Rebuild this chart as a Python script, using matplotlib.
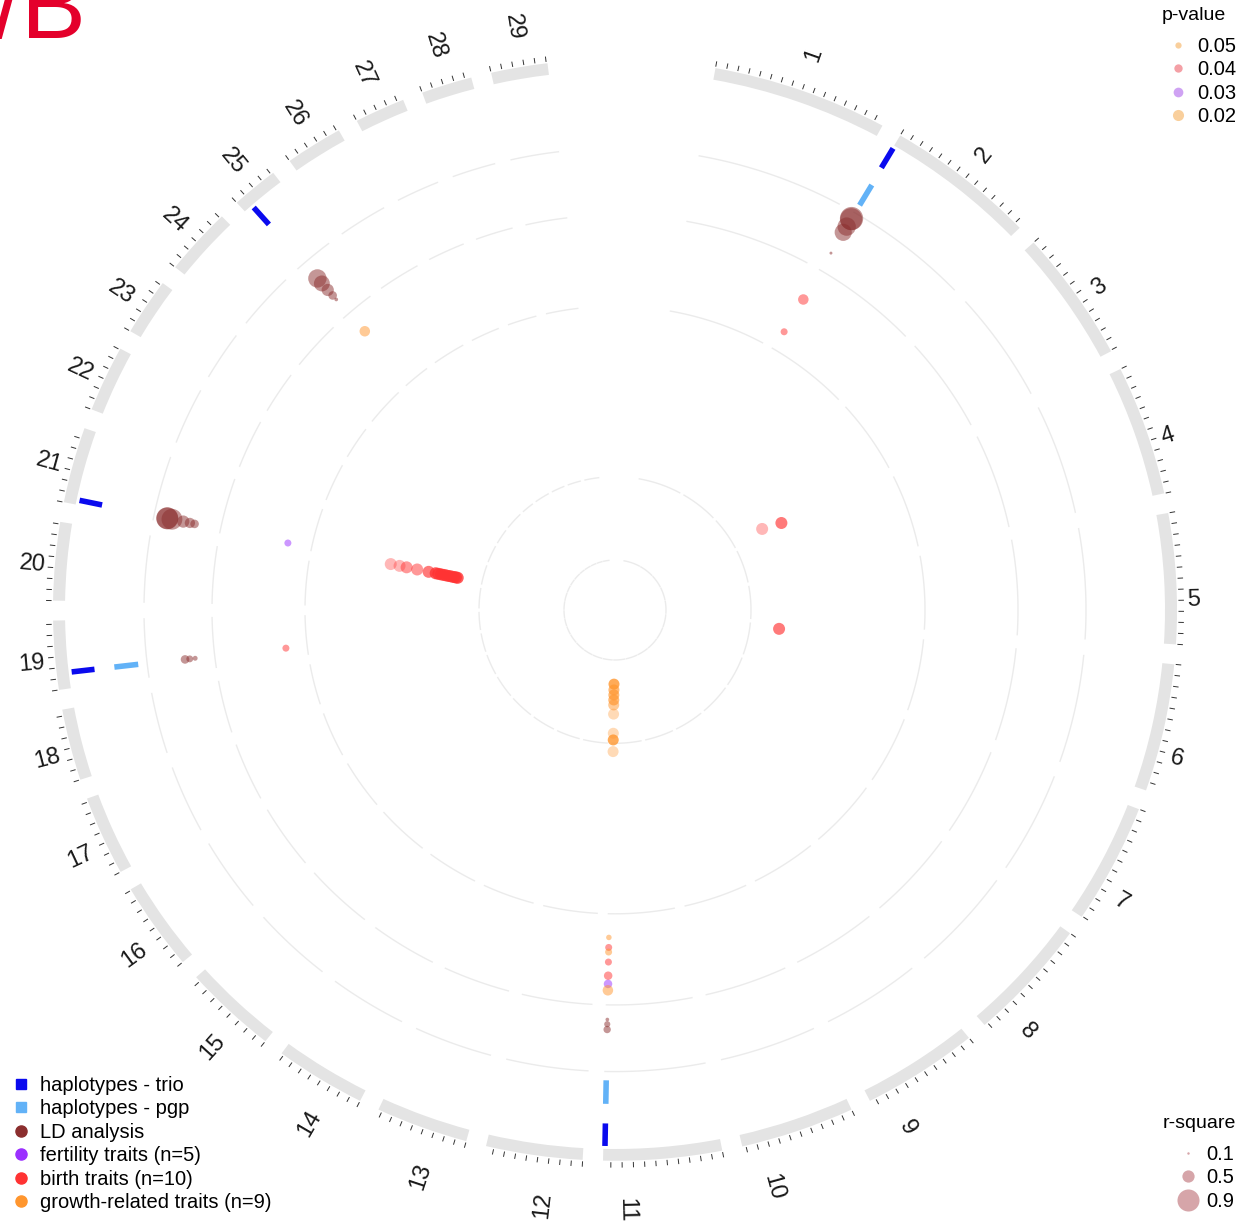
import numpy as np
import matplotlib
matplotlib.use("Agg")
import matplotlib.pyplot as plt
from matplotlib.lines import Line2D
from matplotlib.colors import to_rgba
from matplotlib.transforms import offset_copy

plt.rcParams['font.family'] = ['Liberation Sans', 'DejaVu Sans']

# ---------------- data ----------------
chrom_names = [str(i) for i in range(1, 30)]
chrom_len = [158.5, 136.2, 121.0, 120.0, 120.1, 117.8, 110.7, 113.3, 105.5, 103.3,
             107.0, 87.2, 83.5, 82.4, 85.0, 81.0, 73.2, 65.8, 63.4, 72.0,
             69.9, 61.0, 52.5, 62.3, 42.4, 52.0, 45.6, 45.9, 51.1]

# haplotypes (trio / pgp)
trio_chr = [2, 11, 19, 21, 25]
trio_pos = [0.5, 105.5, 15.0, 4.5, 8.5]
pgp_chr = [2, 11, 19]
pgp_pos = [1.2, 105.5, 15.0]

# LD analysis: position, track value, r-square
ld_chr = [2, 2, 2, 2, 2, 25, 25, 25, 25, 25, 21, 21, 21, 21, 21, 21, 19, 19, 19, 11, 11, 11]
ld_pos = [1.2, 1.2, 1.2, 1.2, 1.5, 8.5, 8.5, 8.5, 8.5, 8.5, 4.5, 4.5, 4.5, 4.5, 4.5, 4.5,
          14.5, 14.5, 14.5, 105.5, 105.5, 105.5]
ld_y = [0.90, 0.89, 0.76, 0.66, 0.30, 0.70, 0.60, 0.47, 0.36, 0.28, 0.80, 0.80, 0.73, 0.56,
        0.46, 0.39, 0.44, 0.37, 0.29, 0.22, 0.29, 0.37]
ld_r2 = [0.95, 0.90, 0.75, 0.70, 0.12, 0.75, 0.65, 0.50, 0.35, 0.15, 0.90, 0.88, 0.85, 0.50,
         0.42, 0.35, 0.35, 0.28, 0.20, 0.15, 0.25, 0.30]

# trait association track (p-value sized)
assoc_chr = [2, 2, 25, 21, 19, 11, 11, 11, 11, 11, 11, 11]
assoc_pos = [2.0, 2.5, 8.5, 4.5, 14.0, 105.5, 105.5, 105.5, 105.5, 105.5, 105.5, 105.5]
assoc_y = [0.63, 0.22, 0.74, 0.26, 0.23, 0.26, 0.37, 0.42, 0.53, 0.68, 0.77, 0.84]
assoc_trait = ['birth', 'birth', 'growth', 'fertility', 'birth', 'growth', 'birth',
               'growth', 'birth', 'birth', 'fertility', 'growth']
assoc_p = [0.02, 0.04, 0.02, 0.04, 0.04, 0.05, 0.04, 0.04, 0.04, 0.03, 0.03, 0.02]

# birth traits track
birth_chr = [21] * 15 + [3, 3, 6]
birth_pos = [4.5] * 15 + [109.5, 120.5, 9.0]
birth_y = [0.99, 0.89, 0.81, 0.69, 0.56, 0.48, 0.45, 0.42, 0.39, 0.36, 0.33, 0.30, 0.27,
           0.25, 0.23, 0.32, 0.54, 0.28]
birth_p = [0.05, 0.05, 0.04, 0.04, 0.03, 0.02, 0.02, 0.02, 0.02, 0.02, 0.02, 0.02, 0.02,
           0.02, 0.02, 0.05, 0.03, 0.03]

# growth-related traits track
growth_chr = [11] * 9
growth_pos = [103.0] * 9
growth_y = [0.29, 0.36, 0.42, 0.48, 0.54, 0.65, 0.88, 0.96, 1.10]
growth_p = [0.02, 0.03, 0.03, 0.03, 0.04, 0.05, 0.05, 0.02, 0.05]

legend_labels = ['haplotypes - trio', 'haplotypes - pgp', 'LD analysis',
                 'fertility traits (n=5)', 'birth traits (n=10)', 'growth-related traits (n=9)']
pvalue_levels = [0.05, 0.04, 0.03, 0.02]
rsq_levels = [0.1, 0.5, 0.9]

# ---------------- layout / style ----------------
W, H = 1260, 1224
CX, CY, RMAX, KY = 615, 610, 620, 0.98      # KY: vertical squash of the circle
START_DEG, GAP_DEG, DEG_PER_MB = 10.3, 2.08, 0.1143

GROWTH_R = (51, 136)
BIRTH_R = (140, 230)
ASSOC_R = (310, 403)
LD_R = (403, 471)
PGP_R = (480, 504)
TRIO_R = (524, 547)
IDEO_R = (550, 562)
GRID_R = [51, 136, 310, 403, 471]

C_TRIO = '#0A0AEE'
C_PGP = '#62B2F7'
C_LD = '#8B2E2E'
C_FERT = '#9B30FF'
C_BIRTH = '#FF3333'
C_GROW = '#FF962E'
trait_color = {'fertility': C_FERT, 'birth': C_BIRTH, 'growth': C_GROW}
p_alpha = {0.05: 0.35, 0.04: 0.5, 0.03: 0.65, 0.02: 0.8}
p_diam = {0.05: 5.5, 0.04: 7.0, 0.03: 8.5, 0.02: 10.5}

cum = np.concatenate([[0.0], np.cumsum(chrom_len)[:-1]])
chr_start = START_DEG + cum * DEG_PER_MB + np.arange(len(chrom_len)) * GAP_DEG
chr_end = chr_start + np.array(chrom_len) * DEG_PER_MB

# empirical label placement (angular shift vs. angle)
LBL_ANG = [0, 40, 55, 72, 88, 105, 120, 135, 150, 179.9, 180.1, 200, 235, 275, 312, 360]
LBL_OFF = [0, 0.2, 0.5, 1.1, 1.9, 2.4, 2.5, 3.4, 3.6, 3.5, -1.7, -1.7, -1.0, -0.1, 0.5, 0.5]


def theta(ch, pos):
    i = np.asarray(ch) - 1
    return np.deg2rad(chr_start[i] + np.asarray(pos) * DEG_PER_MB)


def radius(y, tr):
    return tr[0] + np.asarray(y) * (tr[1] - tr[0])


def s_from_px(d):
    return (np.asarray(d) * 0.72) ** 2


fig = plt.figure(figsize=(W / 100, H / 100), dpi=100)
ax = fig.add_axes([(CX - RMAX) / W, (H - CY - RMAX * KY) / H, 2 * RMAX / W,
                   2 * RMAX * KY / H], projection='polar')
ax.set_aspect('auto')
ax.set_theta_zero_location('N')
ax.set_theta_direction(-1)
ax.set_ylim(0, RMAX)
ax.axis('off')
label_tr = offset_copy(ax.transData, fig=fig, x=-3, y=-4, units='dots')

# grid arcs per sector
for s0, s1 in zip(chr_start, chr_end):
    th = np.deg2rad(np.linspace(s0, s1, 80))
    for r in GRID_R:
        ax.plot(th, np.full_like(th, r), color='#EBEBEB', lw=1.0, zorder=1)

# ideogram + ticks + labels
for i, (s0, s1) in enumerate(zip(chr_start, chr_end)):
    a0, a1 = np.deg2rad(s0), np.deg2rad(s1)
    ax.bar((a0 + a1) / 2, IDEO_R[1] - IDEO_R[0], width=a1 - a0, bottom=IDEO_R[0],
           color='#E4E4E4', edgecolor='none', zorder=2)
    ticks = np.arange(0, chrom_len[i] + 0.01, 10.0)
    ax.vlines(theta([i + 1] * len(ticks), ticks), IDEO_R[1] + 1.5, IDEO_R[1] + 7,
              color='#333333', lw=0.7, zorder=2)
    mid = (s0 + s1) / 2
    lab = mid + np.interp(mid, LBL_ANG, LBL_OFF)
    rot = 90 - lab if lab <= 180 else 270 - lab
    rlab = 582 + 26 * np.cos(np.deg2rad(lab)) ** 2
    ax.text(np.deg2rad(lab), rlab, chrom_names[i], rotation=rot, rotation_mode='anchor',
            ha='center', va='center', fontsize=17, color='#1a1a1a', zorder=5,
            transform=label_tr)

# haplotype bars
ax.vlines(theta(trio_chr, trio_pos), TRIO_R[0], TRIO_R[1], color=C_TRIO, lw=4, zorder=4)
ax.vlines(theta(pgp_chr, pgp_pos), PGP_R[0], PGP_R[1], color=C_PGP, lw=4, zorder=4)

# LD analysis
ax.scatter(theta(ld_chr, ld_pos), radius(ld_y, LD_R), s=s_from_px(24.5 * np.array(ld_r2)),
           color=C_LD, alpha=0.5, edgecolors='none', zorder=4)

# association track
ax.scatter(theta(assoc_chr, assoc_pos), radius(assoc_y, ASSOC_R),
           s=s_from_px([p_diam[p] for p in assoc_p]),
           color=[trait_color[t] for t in assoc_trait], alpha=0.5, edgecolors='none', zorder=4)

# birth track
ax.scatter(theta(birth_chr, birth_pos), radius(birth_y, BIRTH_R), s=s_from_px(12),
           color=[to_rgba(C_BIRTH, p_alpha[p]) for p in birth_p], edgecolors='none', zorder=4)

# growth track
ax.scatter(theta(growth_chr, growth_pos), radius(growth_y, GROWTH_R), s=s_from_px(11),
           color=[to_rgba(C_GROW, p_alpha[p]) for p in growth_p],
           edgecolors='none', zorder=4)

# panel letter (cut at top)
fig.text(-6 / W, 1 - 38 / H, '/B', color='#E4002B', fontsize=70, ha='left', va='baseline')

# legends
FS = 14.5
h_main = [Line2D([], [], marker='s', ls='', color=C_TRIO, markersize=7),
          Line2D([], [], marker='s', ls='', color=C_PGP, markersize=7),
          Line2D([], [], marker='o', ls='', color=C_LD, markersize=8),
          Line2D([], [], marker='o', ls='', color=C_FERT, markersize=8),
          Line2D([], [], marker='o', ls='', color=C_BIRTH, markersize=8),
          Line2D([], [], marker='o', ls='', color=C_GROW, markersize=8)]
fig.legend(h_main, legend_labels, loc='upper left', bbox_to_anchor=(13 / W, 1 - 1076 / H),
           frameon=False, fontsize=FS, handlelength=0.8, handletextpad=0.54,
           labelspacing=0.218, borderaxespad=0, borderpad=0)

pv_cols = ['#F9CF9C', '#F4A0A6', '#CFA2F3', '#F9CF9C']
pv_ms = [4.5, 6, 7, 8]
h_p = [Line2D([], [], marker='o', ls='', color=c, markersize=m, markeredgewidth=0)
       for c, m in zip(pv_cols, pv_ms)]
fig.text(1162 / W, 1 - 15 / H, 'p-value', fontsize=14, ha='left', va='center')
fig.legend(h_p, [f'{v:.2f}' for v in pvalue_levels], loc='upper left',
           bbox_to_anchor=(1168 / W, 1 - 37 / H), frameon=False, fontsize=FS,
           handlelength=1.0, handletextpad=0.44, labelspacing=0.218,
           borderaxespad=0, borderpad=0)

h_r = [Line2D([], [], marker='o', ls='', color='#D6A5A9', markersize=24.5 * v * 0.72,
              markeredgewidth=0) for v in rsq_levels]
fig.text(1163 / W, 1 - 1123 / H, 'r-square', fontsize=14, ha='left', va='center')
fig.legend(h_r, [str(v) for v in rsq_levels], loc='upper left',
           bbox_to_anchor=(1174 / W, 1 - 1145 / H), frameon=False, fontsize=FS,
           handlelength=1.4, handletextpad=0.19, labelspacing=0.218,
           borderaxespad=0, borderpad=0)

fig.savefig('out.png', dpi=100)
